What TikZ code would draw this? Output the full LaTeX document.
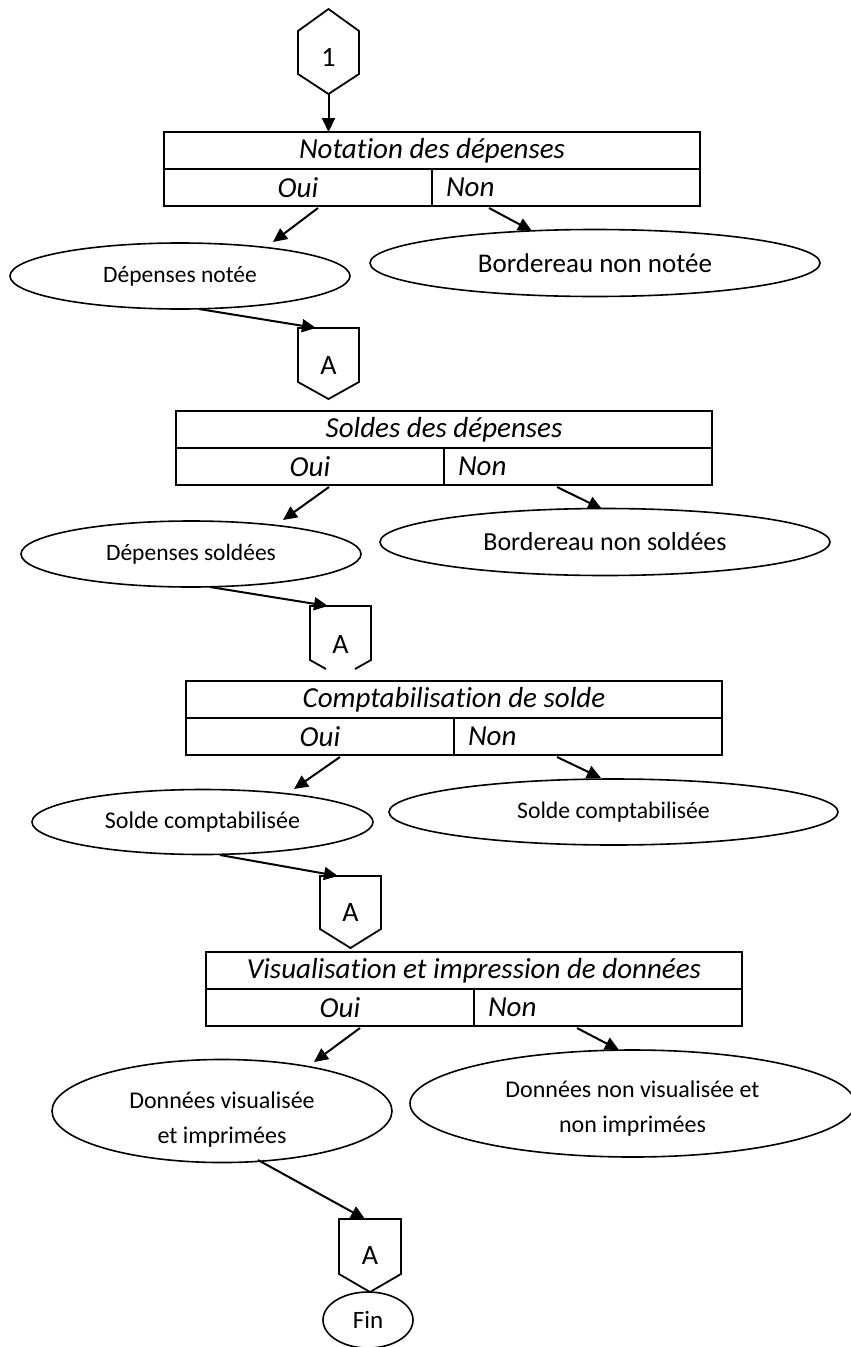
\documentclass[tikz,border=0pt]{standalone}
\usepackage{fontspec}
\setmainfont{Carlito}[Ligatures=NoCommon]
\usetikzlibrary{arrows.meta,shapes.geometric,calc}
\begin{document}
\begin{tikzpicture}[x=1pt,y=-1pt,
  box/.style={draw,line width=2pt,minimum height=37pt,inner sep=0pt,outer sep=0pt,
    font=\fontsize{29}{34}\selectfont\itshape,anchor=north west},
  noncell/.style={box,minimum width=268pt,text width=240pt,align=left,inner xsep=14pt},
  ell/.style={draw,ellipse,line width=1.6pt,inner sep=0pt,align=center},
  ef/.style={font=\fontsize{#1}{35}\selectfont},
  sym/.style={line width=1.8pt,line join=miter},
  lbl/.style={font=\fontsize{28}{32}\selectfont,inner sep=0pt},
  arr/.style={line width=2pt,-{Triangle[length=14pt,width=13pt]}}
]
\fill[white] (0,0) rectangle (851,1347);
\useasboundingbox (0,0) rectangle (851,1347);

% ---------- hexagon 1
\node[lbl] (h1) at (328.5,57) {1};
\draw[sym] (328.5,9) -- (359,31) -- (359,74) -- (328.5,94) -- (298,74) -- (298,31) -- cycle;
\coordinate (h1b) at (328.5,94);

% ---------- box 1
\node[box,minimum width=536pt] (t1) at (164,132) {Notation des dépenses};
\node[box,minimum width=268pt] (o1) at (t1.south west) {Oui};
\node[noncell] (n1) at (o1.north east) {Non};
\draw[arr] (h1b) -- (h1b |- t1.north);

\node[ell,ef=23.5,minimum width=340pt,minimum height=66pt] (e1) at (180,276) {Dépenses notée};
\node[ell,ef=27,minimum width=450pt,minimum height=67pt] (e2) at (595,263) {Bordereau non notée};
\coordinate (o1a) at (318,208); \coordinate (e1a) at (273,242);
\coordinate (n1a) at (489,208); \coordinate (e2a) at (532,231);
\draw[arr] (o1a) -- (e1a);
\draw[arr] (n1a) -- (e2a);

% ---------- A1
\node[lbl] (a1) at (328.5,366) {A};
\draw[sym] (298,328) -- (359,328) -- (359,382) -- (328.5,399) -- (298,382) -- cycle;
\coordinate (e1b) at (199,309); \coordinate (a1t) at (316,328);
\draw[arr] (e1b) -- (a1t);

% ---------- box 2
\node[box,minimum width=536pt] (t2) at (176,411) {Soldes des dépenses};
\node[box,minimum width=268pt] (o2) at (t2.south west) {Oui};
\node[noncell] (n2) at (o2.north east) {Non};

\node[ell,ef=23.5,minimum width=340pt,minimum height=66pt] (e3) at (191,554) {Dépenses soldées};
\node[ell,ef=26,minimum width=450pt,minimum height=67pt] (e4) at (605,542) {Bordereau non soldées};
\coordinate (o2a) at (329,487); \coordinate (e3a) at (283,520);
\coordinate (n2a) at (557,487); \coordinate (e4a) at (602,509);
\draw[arr] (o2a) -- (e3a);
\draw[arr] (n2a) -- (e4a);

% ---------- A2
\node[lbl] (a2) at (340.5,645) {A};
\draw[sym] (326,669) -- (310,660) -- (310,606) -- (371,606) -- (371,660) -- (355,669);
\coordinate (e3b) at (210,587); \coordinate (a2t) at (328,606);
\draw[arr] (e3b) -- (a2t);

% ---------- box 3
\node[box,minimum width=536pt] (t3) at (186,681) {Comptabilisation de solde};
\node[box,minimum width=268pt] (o3) at (t3.south west) {Oui};
\node[noncell] (n3) at (o3.north east) {Non};

\node[ell,ef=24,minimum width=341pt,minimum height=65pt] (e5) at (202.5,822) {Solde comptabilisée};
\node[ell,ef=23.7,minimum width=449pt,minimum height=66pt] (e6) at (613.5,812) {Solde comptabilisée};
\coordinate (o3a) at (340,757); \coordinate (e5a) at (294,789);
\coordinate (n3a) at (557,757); \coordinate (e6a) at (601,778);
\draw[arr] (o3a) -- (e5a);
\draw[arr] (n3a) -- (e6a);

% ---------- A3
\node[lbl] (a3) at (350.5,913) {A};
\draw[sym] (320,876) -- (381,876) -- (381,929) -- (350.5,948) -- (320,929) -- cycle;
\coordinate (e5b) at (220,855); \coordinate (a3t) at (338,876);
\draw[arr] (e5b) -- (a3t);

% ---------- box 4
\node[box,minimum width=536pt] (t4) at (206,952) {Visualisation et impression de données};
\node[box,minimum width=268pt] (o4) at (t4.south west) {Oui};
\node[noncell] (n4) at (o4.north east) {Non};

\node[ell,ef=24,minimum width=340pt,minimum height=98pt] (e7) at (222,1111) {\rule{0pt}{34pt}Données visualisée\\et imprimées};
\node[ell,ef=24,minimum width=445pt,minimum height=107pt] (e8) at (632.5,1103.5) {\rule{0pt}{26pt}Données non visualisée et\\non imprimées};
\coordinate (o4a) at (360,1028); \coordinate (e7a) at (314,1062);
\coordinate (n4a) at (577,1028); \coordinate (e8a) at (619,1050);
\draw[arr] (o4a) -- (e7a);
\draw[arr] (n4a) -- (e8a);

% ---------- A4 and Fin
\node[lbl] (a4) at (370,1256) {A};
\draw[sym] (339,1219) -- (401,1219) -- (401,1274) -- (370,1292) -- (339,1274) -- cycle;
\coordinate (e7b) at (258,1160); \coordinate (a4t) at (365,1219);
\draw[arr] (e7b) -- (a4t);

\node[ell,ef=25,minimum width=90pt,minimum height=56pt] (fin) at (368,1320) {Fin};
\end{tikzpicture}
\end{document}
